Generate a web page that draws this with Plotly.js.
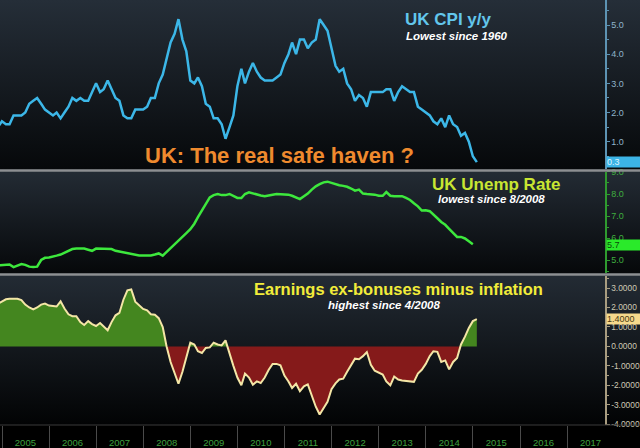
<!DOCTYPE html>
<html>
<head>
<meta charset="utf-8">
<script src="https://cdn.plot.ly/plotly-3.0.1.min.js"></script>
<style>
html,body{margin:0;padding:0;width:640px;height:448px;overflow:hidden;background:#000;}
#bg{position:absolute;left:0;top:0;width:640px;height:448px;
background:linear-gradient(to bottom,
 #252e38 0px, #06080a 169px,
 #232b34 172px, #06080a 273px,
 #232b34 276px, #020304 425px,
 #000 425px, #000 448px);}
#chart{position:absolute;left:0;top:0;width:640px;height:448px;}
</style>
</head>
<body>
<div id="bg"></div>
<div id="chart"></div>
<script>
// Monthly series, first value = Nov 2004 (month-end dates)
const startYear = 2004, startMonth = 11;

// UK CPI y/y, Nov 2004 .. Jan 2015
const cpi = [
 1.5, 1.7,
 1.6,1.6,1.9,1.9,1.9,2.0,2.3,2.4,2.5,2.3,2.1,2.0,
 1.9,2.0,1.8,2.0,2.2,2.5,2.4,2.5,2.4,2.4,2.7,3.0,
 2.7,2.8,3.1,2.8,2.5,2.4,1.9,1.8,1.8,2.1,2.1,2.1,
 2.2,2.5,2.5,3.0,3.3,3.8,4.4,4.7,5.2,4.5,4.1,3.1,
 3.0,3.2,2.9,2.3,2.2,1.8,1.8,1.6,1.1,1.5,1.9,2.9,
 3.5,3.0,3.4,3.7,3.4,3.2,3.1,3.1,3.1,3.2,3.3,3.7,
 4.0,4.4,4.0,4.5,4.5,4.2,4.4,4.5,5.2,5.0,4.8,4.2,
 3.6,3.4,3.5,3.0,2.8,2.4,2.6,2.5,2.2,2.7,2.7,2.7,
 2.7,2.8,2.8,2.4,2.7,2.9,2.8,2.7,2.7,2.2,2.1,2.0,
 1.9,1.7,1.6,1.8,1.5,1.9,1.6,1.5,1.2,1.3,1.0,0.5,
 0.3
];

// UK unemployment rate, Nov 2004 .. Dec 2014
const unemp = [
 4.76, 4.78,
 4.80,4.80,4.68,4.75,4.82,4.78,4.70,4.68,4.70,5.00,5.10,5.12,
 5.15,5.20,5.25,5.33,5.42,5.50,5.52,5.52,5.52,5.47,5.42,5.52,
 5.52,5.52,5.52,5.50,5.42,5.38,5.36,5.32,5.28,5.22,5.21,5.21,
 5.21,5.21,5.25,5.30,5.20,5.36,5.52,5.70,5.88,6.05,6.22,6.40,
 6.65,6.95,7.25,7.55,7.85,7.95,8.00,7.95,7.95,8.00,7.92,7.82,
 7.82,8.00,8.08,8.02,7.97,7.93,7.90,7.92,7.97,8.00,8.00,8.00,
 7.97,7.92,7.85,7.77,7.90,8.02,8.20,8.35,8.45,8.53,8.56,8.50,
 8.43,8.40,8.37,8.33,8.25,8.15,8.20,8.02,8.00,8.00,7.97,7.92,
 7.92,8.09,7.92,7.90,7.90,7.90,7.82,7.73,7.58,7.44,7.25,7.26,
 7.22,7.05,6.90,6.73,6.60,6.42,6.23,6.05,6.05,5.98,5.85,5.72
];

// Earnings ex-bonuses minus inflation, Nov 2004 .. Jan 2015
const earn = [
 2.20, 2.30,
 2.42,2.45,2.45,2.45,2.38,2.15,2.00,1.90,2.00,2.15,2.20,2.10,
 2.08,2.05,2.32,1.95,1.65,1.55,1.55,1.25,1.10,1.30,1.15,1.05,
 1.20,1.00,0.83,1.25,1.60,1.72,2.40,2.88,2.93,2.30,2.10,1.93,
 1.85,1.65,1.63,1.45,1.00,0.00,-0.80,-1.40,-1.92,-1.30,-0.60,0.19,
 0.10,-0.25,-0.34,-0.08,-0.05,0.19,0.10,0.05,0.31,-0.40,-1.00,-1.60,
 -2.00,-1.40,-1.60,-1.97,-1.80,-1.88,-1.60,-1.20,-0.90,-0.90,-0.97,-1.50,
 -1.80,-2.14,-1.92,-2.30,-2.05,-1.95,-2.55,-3.10,-3.50,-3.15,-2.85,-2.20,
 -1.90,-1.70,-1.66,-1.30,-0.95,-0.63,-0.66,-0.50,-0.29,-0.95,-1.25,-1.35,
 -1.45,-1.80,-2.00,-1.55,-1.70,-1.75,-1.78,-1.80,-1.82,-1.40,-1.20,-0.90,
 -0.50,-0.25,-0.28,-0.80,-0.72,-1.18,-0.80,-0.60,0.10,0.50,0.95,1.30,
 1.40
];

const yearLabels = ['2005','2006','2007','2008','2009','2010','2011','2012','2013','2014','2015','2016','2017'];
const earnTickVals = [3,2,1,0,-1,-2,-3,-4];
const earnTickText = ['3.0000','2.0000','1.0000','0.0000','-1.0000','-2.0000','-3.0000','-4.0000'];
const lastCpi = '0.3', lastUnemp = '5.7', lastEarn = '1.4000';

function monthEnd(i){ // ms timestamp of end of month i after start
  return Date.UTC(startYear, startMonth - 1 + i + 1, 0);
}
function dates(n){ const d=[]; for(let i=0;i<n;i++) d.push(monthEnd(i)); return d; }

const dCpi = dates(cpi.length), dUn = dates(unemp.length), dEa = dates(earn.length);

// split earnings into positive / negative fill parts with zero crossings
const px=[],py=[],nx=[],ny=[];
for(let i=0;i<earn.length;i++){
  if(i>0){
    const a=earn[i-1], b=earn[i];
    if((a>0&&b<0)||(a<0&&b>0)){
      const t=a/(a-b); const xc=dEa[i-1]+t*(dEa[i]-dEa[i-1]);
      px.push(xc);py.push(0);nx.push(xc);ny.push(0);
    }
  }
  px.push(dEa[i]); py.push(Math.max(earn[i],0));
  nx.push(dEa[i]); ny.push(Math.min(earn[i],0));
}

const traces = [
 {x:dCpi,y:cpi,xaxis:'x',yaxis:'y',type:'scatter',mode:'lines',line:{color:'#3cb7e8',width:2.5}},
 {x:dUn,y:unemp,xaxis:'x2',yaxis:'y2',type:'scatter',mode:'lines',line:{color:'#3de83d',width:2.5}},
 {x:px,y:py,xaxis:'x3',yaxis:'y3',type:'scatter',mode:'lines',fill:'tozeroy',fillcolor:'#44861f',line:{width:0,color:'rgba(0,0,0,0)'}},
 {x:nx,y:ny,xaxis:'x3',yaxis:'y3',type:'scatter',mode:'lines',fill:'tozeroy',fillcolor:'#851a1a',line:{width:0,color:'rgba(0,0,0,0)'}},
 {x:dEa,y:earn,xaxis:'x3',yaxis:'y3',type:'scatter',mode:'lines',line:{color:'#f4e6a6',width:2}}
];

const xr = ['2004-12-16','2017-10-21'];
const tickFont = {family:'Liberation Sans, Arial, sans-serif',size:9};
const yearTicks = yearLabels.map(y=>y+'-07-01');

function yax(domain, range, color, lcolor, dtick, fmt, fsize){
  return {domain:domain, range:range, side:'right', anchor:'free', position:1, showgrid:false, zeroline:false,
    showline:true, linecolor:lcolor, linewidth:1.5, ticks:'outside', ticklen:3, tickcolor:lcolor, tickwidth:1,
    ticklabelstandoff:0,
    dtick:dtick, tick0:0, tickformat:fmt, tickfont:Object.assign({},tickFont,{color:color,size:fsize}),
    minor:{ticks:'outside',ticklen:2,tickcolor:lcolor,dtick:dtick/2}, fixedrange:true};
}

function ann(text,x,y,size,color,italic){
  return {text:text,xref:'paper',yref:'paper',x:x,y:y,xanchor:'center',yanchor:'middle',showarrow:false,
    font:{family:'Liberation Sans, Arial, sans-serif',size:size,color:color,weight:'bold',style:italic?'italic':'normal'}};
}
function tag(text,yref,y,bg,fg){
  return {text:text,xref:'paper',yref:yref,x:1,y:y,xanchor:'left',yanchor:'middle',xshift:1,showarrow:false,
    bgcolor:bg,borderpad:0,width:33,height:10,align:'left',font:{family:tickFont.family,size:9,color:fg}};
}

const y3 = yax([0,0.3506],[-4.04,3.62],'#cfc8b4','#a89c80',1,'.4f',8.4);
y3.tickmode = 'array'; y3.tickvals = earnTickVals; y3.ticktext = earnTickText;

const layout = {
  width:640,height:448,margin:{l:0,r:35,t:0,b:23},
  paper_bgcolor:'rgba(0,0,0,0)',plot_bgcolor:'rgba(0,0,0,0)',showlegend:false,
  xaxis:{type:'date',matches:'x3',anchor:'y',visible:false,range:xr},
  xaxis2:{type:'date',matches:'x3',anchor:'y2',visible:false,range:xr},
  xaxis3:{type:'date',anchor:'y3',range:xr,showgrid:false,zeroline:false,showline:false,
    tickvals:yearLabels.map(y=>y+'-01-01').concat(['2018-01-01']),ticktext:yearLabels.map(()=> '').concat(['']),
    ticks:'outside',ticklen:23,tickcolor:'#4a4a4a',tickwidth:1,fixedrange:true},
  xaxis4:{type:'date',overlaying:'x3',anchor:'y3',range:xr,showgrid:false,zeroline:false,showline:false,
    tickvals:yearTicks,ticktext:yearLabels,ticks:'',ticklabelstandoff:10,
    tickfont:{family:'Liberation Sans, Arial, sans-serif',size:9.5,color:'#3fa03f'},fixedrange:true},
  yaxis: yax([0.6024,1],[0.065,5.857],'#8fb4cc','#5d93b3',1,'.1f',9),
  yaxis2:yax([0.3576,0.5953],[4.41,9.0],'#3fae3f','#2f9a2f',1,'.1f',9),
  yaxis3:y3,
  shapes:[
    {type:'line',xref:'paper',yref:'paper',x0:0,x1:1.06,y0:0.5988,y1:0.5988,line:{color:'#8d8f92',width:2.5}},
    {type:'line',xref:'paper',yref:'paper',x0:0,x1:1.06,y0:0.3541,y1:0.3541,line:{color:'#8d8f92',width:2.5}},
    {type:'line',xref:'paper',yref:'paper',x0:0,x1:1.06,y0:0,y1:0,line:{color:'#3a3a3a',width:1}}
  ],
  annotations:[
    ann('UK CPI y/y',0.742,0.953,17,'#62c6ec',false),
    ann('Lowest since 1960',0.755,0.915,11.5,'#ffffff',true),
    ann('UK: The real safe haven ?',0.462,0.633,22,'#ef8a2e',false),
    ann('UK Unemp Rate',0.820,0.566,17,'#c8e632',false),
    ann('lowest since 8/2008',0.813,0.5306,11.5,'#ffffff',true),
    ann('Earnings ex-bonuses minus inflation',0.658,0.320,16.5,'#f2ec3a',false),
    ann('highest since 4/2008',0.635,0.2824,11.5,'#ffffff',true),
    tag(lastCpi,'y',0.3,'#3cb4e6','#dff4ff'),
    tag(lastUnemp,'y2',5.7,'#2aea2a','#0a4a0a'),
    tag(lastEarn,'y3',1.4,'#f6d98c','#4a3a10')
  ]
};
// the year labels axis needs a dummy trace
traces.push({x:[dEa[0]],y:[0],xaxis:'x4',yaxis:'y3',type:'scatter',mode:'markers',marker:{opacity:0},hoverinfo:'skip'});

Plotly.newPlot('chart',traces,layout,{staticPlot:true,displayModeBar:false});
</script>
</body>
</html>
